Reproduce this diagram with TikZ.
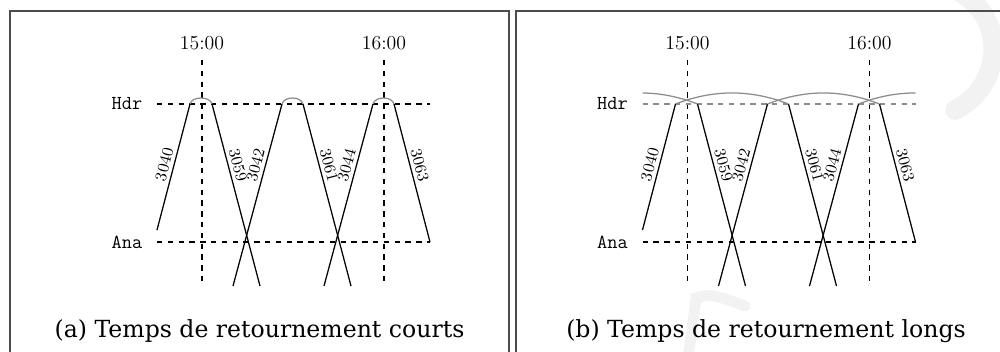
\documentclass[tikz,border=0pt]{standalone}
\usepackage{fontspec}
\newfontfamily\capfont{DejaVu Serif}
\begin{document}
\begin{tikzpicture}[x=0.5556pt,y=-0.5556pt,
  font=\fontsize{11}{13}\selectfont,
  frame/.style={draw=black!70, line width=0.8pt},
  gridline/.style={dashed, line width=0.7pt},
  trip/.style={line width=0.7pt},
  turn/.style={draw=black!45, line width=0.7pt},
  station/.style={font=\ttfamily\fontsize{11}{13}\selectfont},
  lbl/.style={sloped, above, inner sep=1.8pt, font=\fontsize{9}{10}\selectfont},
  capt/.style={font=\capfont\fontsize{13.1}{15}\selectfont, anchor=base},
  wmark/.style={draw=black!5, line cap=round}]
\useasboundingbox (0,0) rectangle (1000,351);
% faint watermark
\draw[wmark, line width=11pt] (960,-8) .. controls (1010,22) and (1000,88) .. (955,110);
\draw[wmark, line width=6pt] (688,360) -- (696,298) .. controls (712,294) .. (745,306);
% frames
\draw[frame] (10,360) -- (10,11) -- (509,11) -- (509,360);
\draw[frame] (516,360) -- (516,11) -- (1010,11);
\node[capt] (capa) at (259.5,337) {(a) Temps de retournement courts};
\node[capt] (capb) at (766,337) {(b) Temps de retournement longs};
\foreach \p/\dx/\lng/\hc in {L/0/0/black, R/485.5/1/black!45}{
 \begin{scope}[shift={(\dx,0)}]
  \node (\p t15) at (202,43) {15:00};
  \node (\p t16) at (384,43) {16:00};
  \node[station] (\p hdr) at (127,104) {Hdr};
  \node[station] (\p ana) at (127,242) {Ana};
  \coordinate (\p v15a) at (202,60); \coordinate (\p v15b) at (202,286);
  \coordinate (\p v16a) at (384,60); \coordinate (\p v16b) at (384,286);
  \coordinate (\p h0) at (157,104); \coordinate (\p h1) at (430,104);
  \coordinate (\p n0) at (157,242); \coordinate (\p n1) at (430,242);
  \draw[gridline] (\p v15a) -- (\p v15b);
  \draw[gridline] (\p v16a) -- (\p v16b);
  \draw[gridline, draw=\hc] (\p h0) -- (\p h1);
  \draw[gridline] (\p n0) -- (\p n1);
  % arrival / departure points at Hdr
  \coordinate (\p a0) at (99,104);
  \coordinate (\p a1) at (190,104); \coordinate (\p d1) at (212,104);
  \coordinate (\p a2) at (282,104); \coordinate (\p d2) at (303,104);
  \coordinate (\p a3) at (373,104); \coordinate (\p d3) at (394,104);
  \coordinate (\p d4) at (486,104);
  % other ends
  \coordinate (\p e3040) at (157,230);
  \coordinate (\p e3059) at (260,286);
  \coordinate (\p e3042) at (233,286);
  \coordinate (\p e3061) at (351,286);
  \coordinate (\p e3044) at (324,286);
  \coordinate (\p e3063) at (430,242);
  \draw[trip] (\p e3040) -- node[lbl, pos=0.5] {3040} (\p a1);
  \draw[trip] (\p d1) -- node[lbl, pos=0.35] {3059} (\p e3059);
  \draw[trip] (\p e3042) -- node[lbl, pos=0.65] {3042} (\p a2);
  \draw[trip] (\p d2) -- node[lbl, pos=0.35] {3061} (\p e3061);
  \draw[trip] (\p e3044) -- node[lbl, pos=0.65] {3044} (\p a3);
  \draw[trip] (\p d3) -- node[lbl, pos=0.46] {3063} (\p e3063);
  \ifnum\lng=0
    \draw[turn] (\p a1) .. controls +(2,-8) and +(-2,-8) .. (\p d1);
    \draw[turn] (\p a2) .. controls +(2,-8) and +(-2,-8) .. (\p d2);
    \draw[turn] (\p a3) .. controls +(2,-8) and +(-2,-8) .. (\p d3);
  \else
    \begin{scope}
      \clip (157,70) rectangle (430,110);
      \draw[turn] (\p a0) .. controls +(37.7,-14.7) and +(-37.7,-14.7) .. (\p d1);
      \draw[turn] (\p a1) .. controls +(37.7,-14.7) and +(-37.7,-14.7) .. (\p d2);
      \draw[turn] (\p a2) .. controls +(37.7,-14.7) and +(-37.7,-14.7) .. (\p d3);
      \draw[turn] (\p a3) .. controls +(37.7,-14.7) and +(-37.7,-14.7) .. (\p d4);
    \end{scope}
  \fi
 \end{scope}
}
\end{tikzpicture}
\end{document}
